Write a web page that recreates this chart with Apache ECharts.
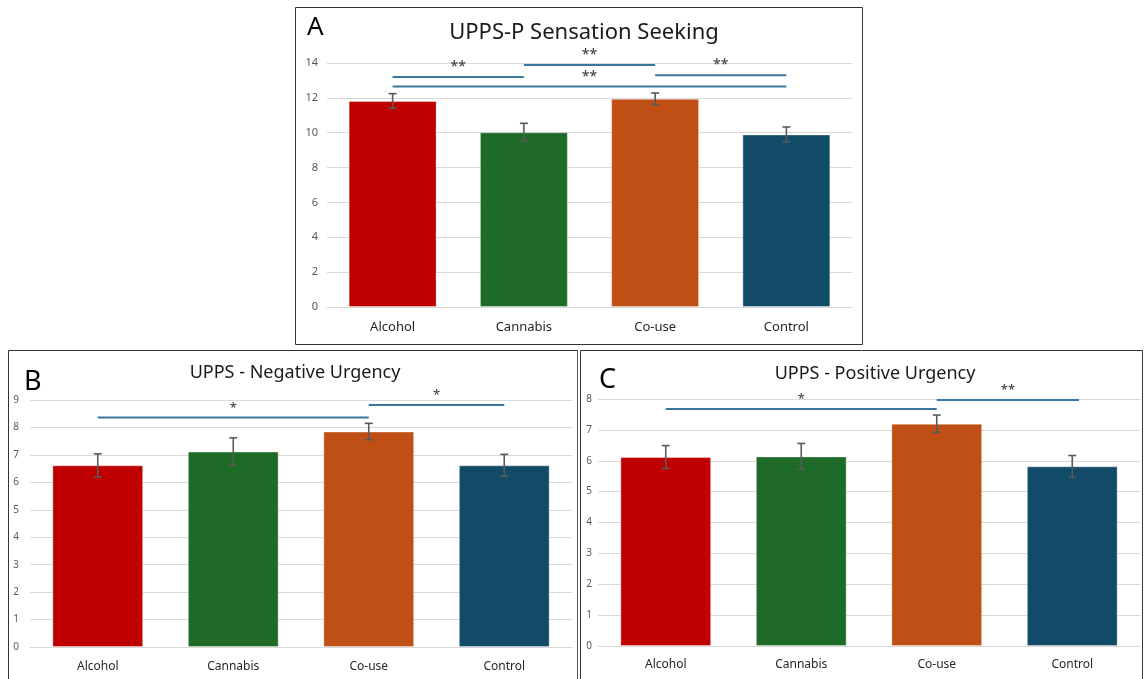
<!DOCTYPE html>
<html><head><meta charset="utf-8">
<script src="https://cdn.jsdelivr.net/npm/echarts@6/dist/echarts.min.js"></script>
<style>html,body{margin:0;padding:0;background:#fff}#c{width:1144px;height:679px}</style>
</head><body><div id="c"></div>
<script>
const categories = ['Alcohol', 'Cannabis', 'Co-use', 'Control'];
const barColors = ['#C00000', '#1E6B27', '#C04F15', '#124B68'];

// Panel A: UPPS-P Sensation Seeking
const valuesA = [11.82, 10.02, 11.95, 9.9];
const errorsA = [0.42, 0.52, 0.33, 0.43];
const yTicksA = {min: 0, max: 14, interval: 2};
const sigA = [[0, 1, 13.2, '**'], [1, 2, 13.88, '**'], [2, 3, 13.3, '**'], [0, 3, 12.65, '**']];

// Panel B: UPPS - Negative Urgency
const valuesB = [6.62, 7.12, 7.85, 6.62];
const errorsB = [0.42, 0.5, 0.3, 0.4];
const yTicksB = {min: 0, max: 9, interval: 1};
const sigB = [[0, 2, 8.36, '*'], [2, 3, 8.82, '*']];

// Panel C: UPPS - Positive Urgency
const valuesC = [6.12, 6.14, 7.2, 5.82];
const errorsC = [0.37, 0.42, 0.28, 0.35];
const yTicksC = {min: 0, max: 8, interval: 1};
const sigC = [[0, 2, 7.68, '*'], [2, 3.05, 7.97, '**']];

const FONT = 'Noto Sans';
const chart = echarts.init(document.getElementById('c'), null, {renderer: 'canvas'});

const panels = [
  {letter: 'A', title: 'UPPS-P Sensation Seeking', vals: valuesA, errs: errorsA, ticks: yTicksA, sig: sigA,
   grid: {left: 327, top: 63, width: 525, height: 244}, frame: [295, 7, 567, 337],
   titleX: 579, titleY: 17, titleSize: 22, letterX: 302, letterY: 10, letterSize: 26,
   yLabSize: 11, yMargin: 9, xLabSize: 13, xMargin: 14, starSize: 14},
  {letter: 'B', title: 'UPPS - Negative Urgency', vals: valuesB, errs: errorsB, ticks: yTicksB, sig: sigB,
   grid: {left: 30, top: 400, width: 542, height: 247}, frame: [8, 350, 569, 340],
   titleX: 290, titleY: 359, titleSize: 18, letterX: 19, letterY: 364, letterSize: 27,
   yLabSize: 10, yMargin: 11, xLabSize: 12, xMargin: 14, starSize: 13},
  {letter: 'C', title: 'UPPS - Positive Urgency', vals: valuesC, errs: errorsC, ticks: yTicksC, sig: sigC,
   grid: {left: 598, top: 399, width: 542, height: 247}, frame: [580, 350, 562, 340],
   titleX: 870, titleY: 360, titleSize: 18, letterX: 594, letterY: 362, letterSize: 27,
   yLabSize: 10, yMargin: 6, xLabSize: 12, xMargin: 13, starSize: 13}
];

const option = {
  animation: false,
  backgroundColor: '#fff',
  title: [], grid: [], xAxis: [], yAxis: [], series: [], graphic: []
};

panels.forEach((p, i) => {
  option.grid.push(p.grid);
  option.title.push({text: p.title, left: p.titleX, top: p.titleY, textAlign: 'center',
    textStyle: {fontFamily: FONT, fontSize: p.titleSize, fontWeight: 'normal', color: '#1a1a1a'}});
  option.title.push({text: p.letter, left: p.letterX, top: p.letterY,
    textStyle: {fontFamily: FONT, fontSize: p.letterSize, fontWeight: 'normal', color: '#000'}});
  option.xAxis.push({type: 'category', gridIndex: i, data: categories,
    axisLine: {show: true, lineStyle: {color: '#d9d9d9', width: 1}}, axisTick: {show: false},
    axisLabel: {fontFamily: FONT, fontSize: p.xLabSize, color: '#262626', margin: p.xMargin}});
  option.yAxis.push({type: 'value', gridIndex: i, min: p.ticks.min, max: p.ticks.max, interval: p.ticks.interval,
    axisLine: {show: false}, axisTick: {show: false},
    splitLine: {lineStyle: {color: '#d9d9d9', width: 1}},
    axisLabel: {fontFamily: FONT, fontSize: p.yLabSize, color: '#595959', margin: p.yMargin}});
  option.series.push({type: 'bar', xAxisIndex: i, yAxisIndex: i, barCategoryGap: '33%',
    data: p.vals.map((v, k) => ({value: v, itemStyle: {color: barColors[k], borderColor: 'rgba(255,255,255,0.35)', borderWidth: 1}}))});
  option.series.push({type: 'custom', xAxisIndex: i, yAxisIndex: i, z: 5,
    data: p.vals.map((v, k) => [k, v - p.errs[k], v + p.errs[k]]),
    renderItem: function (params, api) {
      const lo = api.coord([api.value(0), api.value(1)]);
      const hi = api.coord([api.value(0), api.value(2)]);
      const s = {stroke: '#5a5a5a', lineWidth: 1.6};
      return {type: 'group', children: [
        {type: 'line', shape: {x1: lo[0], y1: lo[1], x2: hi[0], y2: hi[1]}, style: s},
        {type: 'line', shape: {x1: lo[0] - 4, y1: lo[1], x2: lo[0] + 4, y2: lo[1]}, style: s},
        {type: 'line', shape: {x1: hi[0] - 4, y1: hi[1], x2: hi[0] + 4, y2: hi[1]}, style: s}
      ]};
    }});
  option.series.push({type: 'custom', xAxisIndex: i, yAxisIndex: i, z: 6, clip: false,
    data: p.sig.map(s => [s[0], s[1], s[2]]),
    renderItem: function (params, api) {
      const lab = p.sig[params.dataIndex][3];
      const y = api.value(2);
      const a = api.coord([0, y]), b = api.coord([1, y]);
      const step = b[0] - a[0];
      const x1 = a[0] + step * api.value(0), x2 = a[0] + step * api.value(1);
      return {type: 'group', children: [
        {type: 'line', shape: {x1: x1, y1: a[1], x2: x2, y2: a[1]}, style: {stroke: '#3A779E', lineWidth: 2}},
        {type: 'text', x: (x1 + x2) / 2, y: a[1] - 3, style: {text: lab, fontFamily: FONT, fontSize: p.starSize,
          fill: '#333', align: 'center', verticalAlign: 'bottom'}}
      ]};
    }});
  option.graphic.push({type: 'rect', shape: {x: p.frame[0] + 0.5, y: p.frame[1] + 0.5, width: p.frame[2], height: p.frame[3]},
    style: {fill: 'none', stroke: '#333', lineWidth: 1}, silent: true, z: 10});
});
option.graphic.push({type: 'line', shape: {x1: 577.5, y1: 350, x2: 577.5, y2: 679}, style: {stroke: '#555', lineWidth: 1}, z: 10});

chart.setOption(option);
</script></body></html>
